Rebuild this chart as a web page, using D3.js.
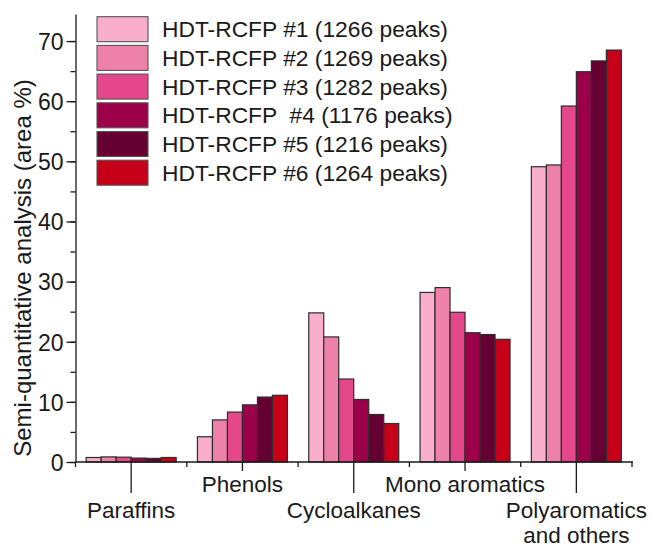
<!DOCTYPE html>
<html lang="en">
  <meta charset="utf-8">
  <style>
    body{ margin: 0; background: #fff; }
    text{ font-family: "Liberation Sans", Arial, sans-serif; fill: #1a1a1a; }
    .axis path, .axis line{ stroke: #1a1a1a; stroke-width: 1.3; }
  </style>
  <body>
    <svg width="652" height="547"></svg>

    <script src="https://d3js.org/d3.v7.min.js"></script>
    <script>
      let categories = ['Paraffins', 'Phenols', 'Cycloalkanes', 'Mono aromatics', 'Polyaromatics and others']
      let seriesNames = [
        'HDT-RCFP #1 (1266 peaks)',
        'HDT-RCFP #2 (1269 peaks)',
        'HDT-RCFP #3 (1282 peaks)',
        'HDT-RCFP  #4 (1176 peaks)',
        'HDT-RCFP #5 (1216 peaks)',
        'HDT-RCFP #6 (1264 peaks)'
      ]
      // one array per sample, in category order
      let run1 = [0.75, 4.2, 24.8, 28.2, 49.1]
      let run2 = [0.85, 7.0, 20.8, 29.0, 49.4]
      let run3 = [0.8, 8.3, 13.8, 24.9, 59.2]
      let run4 = [0.65, 9.5, 10.4, 21.5, 64.9]
      let run5 = [0.6, 10.8, 7.9, 21.2, 66.7]
      let run6 = [0.75, 11.1, 6.4, 20.4, 68.5]
      let yTicks = [0, 10, 20, 30, 40, 50, 60, 70]
      let colors = ['#f9afcb', '#ee81a8', '#e4488a', '#9c0049', '#660032', '#c70019']

      let runs = [run1, run2, run3, run4, run5, run6]
      let data = categories.map((c, i) => ({
        cat: c,
        values: runs.map((r, j) => ({ key: seriesNames[j], value: r[i] }))
      }))

      let svg = d3.select('svg')
      let plotLeft = 75.5, plotRight = 632, plotTop = 14, plotBottom = 462

      let x0 = d3.scaleBand().domain(categories).range([plotLeft, plotRight]).padding(0)
      let x1 = d3.scaleBand().domain(seriesNames).range([0, x0.bandwidth()]).paddingInner(0).paddingOuter(0.71)
      let y = d3.scaleLinear().domain([0, 74.5]).range([plotBottom, plotTop])
      let color = d3.scaleOrdinal().domain(seriesNames).range(colors)

      // bars
      svg.append('g')
        .selectAll('g')
        .data(data).enter()
        .append('g')
        .attr('transform', d => `translate(${x0(d.cat)},0)`)
        .selectAll('rect')
        .data(d => d.values).enter()
        .append('rect')
        .attr('x', d => x1(d.key))
        .attr('width', x1.bandwidth())
        .attr('y', d => y(d.value))
        .attr('height', d => y(0) - y(d.value))
        .attr('fill', d => color(d.key))
        .attr('stroke', '#2e2e2e')
        .attr('stroke-width', 1.2)

      // y axis: minor ticks every 5, labelled ticks every 10
      svg.append('g').attr('class', 'axis')
        .attr('transform', `translate(${plotLeft},0)`)
        .call(d3.axisLeft(y).tickValues(d3.range(0, 75, 5)).tickSize(5).tickFormat(''))
        .call(g => g.select('.domain').remove())
      svg.append('g').attr('class', 'axis')
        .attr('transform', `translate(${plotLeft},0)`)
        .call(d3.axisLeft(y).tickValues(yTicks).tickSize(9).tickSizeOuter(0).tickPadding(3))
        .call(g => g.selectAll('text').style('font-size', '23px').attr('dy', '0.36em'))

      // x axis: short ticks at group edges, centre ticks alternate long and short
      let edges = categories.map(c => x0(c)).concat([plotRight])
      let xg = svg.append('g').attr('class', 'axis')
      xg.append('line').attr('x1', plotLeft).attr('x2', plotRight + 1).attr('y1', plotBottom).attr('y2', plotBottom)
      xg.selectAll('.edge').data(edges).enter()
        .append('line')
        .attr('x1', d => d).attr('x2', d => d)
        .attr('y1', plotBottom).attr('y2', plotBottom + 5)
      xg.selectAll('.mid').data(categories).enter()
        .append('line')
        .attr('x1', d => x0(d) + x0.bandwidth() / 2)
        .attr('x2', d => x0(d) + x0.bandwidth() / 2)
        .attr('y1', plotBottom)
        .attr('y2', (d, i) => plotBottom + (i % 2 ? 9 : 31))

      let catLabels = svg.append('g')
        .selectAll('text')
        .data(categories).enter()
        .append('text')
        .attr('x', d => x0(d) + x0.bandwidth() / 2)
        .attr('y', (d, i) => i % 2 ? 492 : 518)
        .attr('text-anchor', 'middle')
        .style('font-size', '22.5px')
      catLabels.each(function(d){
        let parts = d === 'Polyaromatics and others' ? ['Polyaromatics', 'and others'] : [d]
        let cx = d3.select(this).attr('x')
        d3.select(this).selectAll('tspan')
          .data(parts).enter()
          .append('tspan')
          .attr('x', cx)
          .attr('dy', (p, k) => k ? 25 : 0)
          .text(p => p)
      })

      svg.append('text')
        .attr('transform', 'translate(31,268) rotate(-90)')
        .attr('text-anchor', 'middle')
        .style('font-size', '24px')
        .text('Semi-quantitative analysis (area %)')

      // legend
      let legend = svg.append('g')
        .selectAll('g')
        .data(seriesNames).enter()
        .append('g')
        .attr('transform', (d, i) => `translate(97,${16.7 + i * 28.7})`)
      legend.append('rect')
        .attr('width', 51).attr('height', 25)
        .attr('fill', d => color(d))
        .attr('stroke', '#555').attr('stroke-width', 1.1)
      legend.append('text')
        .attr('x', 65).attr('y', 20.5)
        .style('font-size', '22.8px')
        .style('white-space', 'pre')
        .text(d => d)
    </script>
</body>
</html>
